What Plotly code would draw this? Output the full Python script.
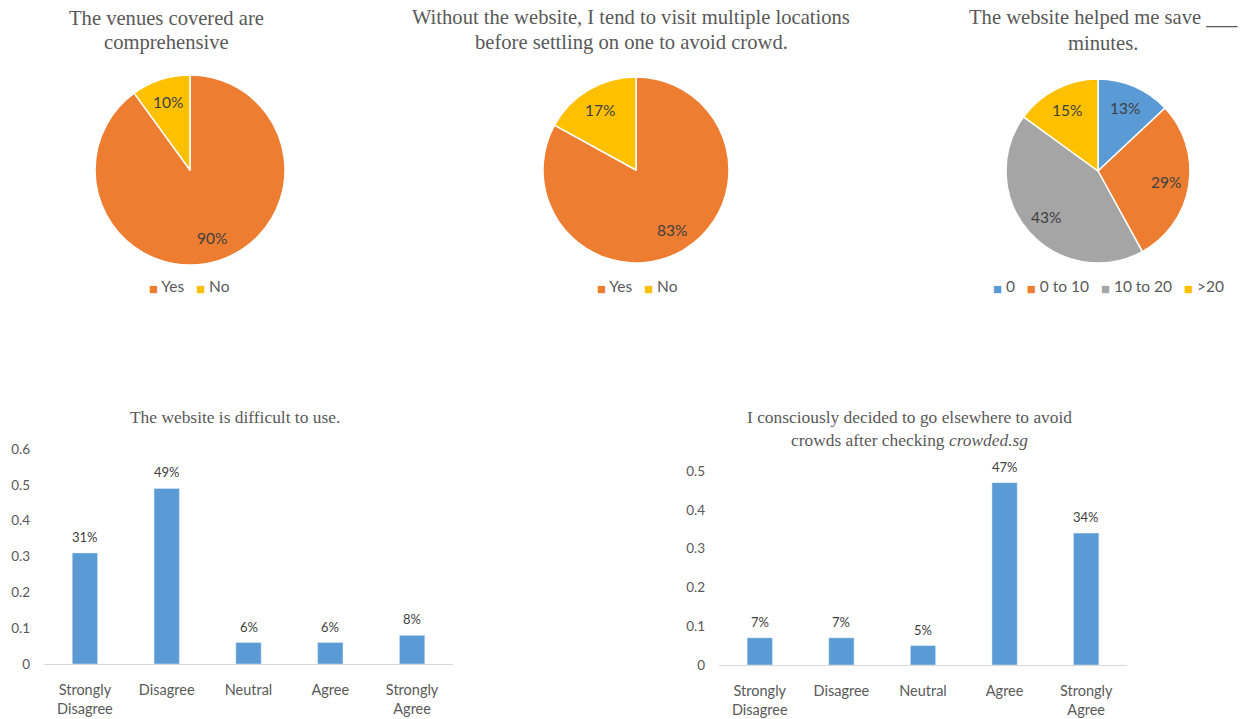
import math
import plotly.graph_objects as go

W, H = 1241, 719

# ---------------- data ----------------
pie1_title = ["The venues covered are", "comprehensive"]
pie1_labels = ["Yes", "No"]
pie1_values = [90, 10]

pie2_title = ["Without the website, I tend to visit multiple locations",
              "before settling on one to avoid crowd."]
pie2_labels = ["Yes", "No"]
pie2_values = [83, 17]

pie3_title = ["The website helped me save ___", "minutes."]
pie3_labels = ["0", "0 to 10", "10 to 20", ">20"]
pie3_values = [13, 29, 43, 15]

bar_categories = ["Strongly<br>Disagree", "Disagree", "Neutral", "Agree", "Strongly<br>Agree"]
bar1_title = ["The website is difficult to use."]
bar1_values = [0.31, 0.49, 0.06, 0.06, 0.08]
bar2_title = ["I consciously decided to go elsewhere to avoid",
              "crowds after checking <i>crowded.sg</i>"]
bar2_values = [0.07, 0.07, 0.05, 0.47, 0.34]

# ---------------- style ----------------
ORANGE, YELLOW, BLUE, GRAY = "#ED7D31", "#FFC000", "#5B9BD5", "#A5A5A5"
pie1_colors = [ORANGE, YELLOW]
pie2_colors = [ORANGE, YELLOW]
pie3_colors = [BLUE, ORANGE, GRAY, YELLOW]
SANS = "Lato, Carlito, Calibri, sans-serif"
SERIF = "Liberation Serif, Times New Roman, serif"
LABEL_C = "#404040"
TICK_C = "#595959"


def px(x):
    return x / W


def py(y):
    return 1 - y / H


fig = go.Figure()
annotations = []


def add_pie(labels, values, colors, cx, cy, r):
    fig.add_trace(go.Pie(
        labels=labels, values=values, sort=False, direction="clockwise", rotation=0,
        marker=dict(colors=colors, line=dict(color="white", width=1.5)),
        textinfo="none",
        domain=dict(x=[px(cx - r), px(cx + r)], y=[py(cy + r), py(cy - r)]),
        showlegend=False, hoverinfo="label+percent",
    ))
    # percentage labels placed at the slice mid-angle, ~3/4 of the radius
    total = float(sum(values))
    cum = 0.0
    for v in values:
        mid = (cum + v / 2.0) / total * 2 * math.pi
        cum += v
        lx = cx + 0.75 * r * math.sin(mid)
        ly = cy - 0.75 * r * math.cos(mid)
        annotations.append(dict(
            text="%d%%" % round(100 * v / total), x=px(lx), y=py(ly),
            xref="paper", yref="paper", xanchor="center", yanchor="middle",
            showarrow=False, font=dict(family=SANS, size=15.5, color=LABEL_C),
        ))


add_pie(pie1_labels, pie1_values, pie1_colors, 190, 170, 95)
add_pie(pie2_labels, pie2_values, pie2_colors, 636, 170, 93)
add_pie(pie3_labels, pie3_values, pie3_colors, 1098, 171, 92)

bar_color = BLUE
fig.add_trace(go.Bar(
    x=bar_categories, y=bar1_values, marker=dict(color=bar_color),
    xaxis="x", yaxis="y", showlegend=False,
))
fig.add_trace(go.Bar(
    x=bar_categories, y=bar2_values, marker=dict(color=bar_color),
    xaxis="x2", yaxis="y2", showlegend=False,
))

for cats, vals, xr, yr in [(bar_categories, bar1_values, "x", "y"),
                           (bar_categories, bar2_values, "x2", "y2")]:
    for c, v in zip(cats, vals):
        annotations.append(dict(
            text="%d%%" % round(v * 100), x=c, y=v, xref=xr, yref=yr,
            xanchor="center", yanchor="middle", yshift=16, showarrow=False,
            font=dict(family=SANS, size=13, color=LABEL_C),
        ))

xcommon = dict(showline=True, linecolor="#D9D9D9", linewidth=1, ticks="",
               showgrid=False, zeroline=False, automargin=False,
               ticklabelstandoff=13,
               tickfont=dict(family=SANS, size=14.5, color=TICK_C))
ycommon = dict(showline=False, showgrid=False, zeroline=False, ticks="",
               automargin=False, dtick=0.1,
               tickfont=dict(family=SANS, size=13.5, color=TICK_C),
               ticklabelstandoff=13)


def title(lines, x, y0, dy, size):
    for i, t in enumerate(lines):
        annotations.append(dict(
            text=t, x=px(x), y=py(y0 + i * dy), xref="paper", yref="paper",
            xanchor="center", yanchor="middle", showarrow=False,
            font=dict(family=SERIF, size=size, color=TICK_C),
        ))


title(pie1_title, 166, 18, 25, 20.6)
title(pie2_title, 631, 18, 25, 20.6)
title(pie3_title, 1103, 18, 25, 20.6)
title(bar1_title, 235, 417, 23, 17.4)
title(bar2_title, 909, 417, 23, 17.4)


def legend(labels, colors, x, y):
    parts = []
    for lab, col in zip(labels, colors):
        parts.append('<span style="color:%s;font-size:9.5px;font-family:DejaVu Sans">\u25A0</span>\u00a0%s'
                     % (col, lab))
    annotations.append(dict(
        text="\u00a0\u00a0\u00a0".join(parts), x=px(x), y=py(y), xref="paper", yref="paper",
        xanchor="center", yanchor="middle", showarrow=False,
        font=dict(family=SANS, size=15.5, color=TICK_C),
    ))


legend(pie1_labels, pie1_colors, 189, 286)
legend(pie2_labels, pie2_colors, 637, 286)
legend(pie3_labels, pie3_colors, 1108, 286)

fig.update_layout(
    width=W, height=H, margin=dict(l=0, r=0, t=0, b=0, autoexpand=False),
    paper_bgcolor="white", plot_bgcolor="white", showlegend=False,
    bargap=0.69,
    xaxis=dict(domain=[px(44), px(453)], anchor="y", **xcommon),
    yaxis=dict(domain=[py(664), py(449)], range=[0, 0.6], anchor="x", **ycommon),
    xaxis2=dict(domain=[px(719), px(1127)], anchor="y2", **xcommon),
    yaxis2=dict(domain=[py(665), py(471)], range=[0, 0.5], anchor="x2", **ycommon),
    annotations=annotations,
)

fig.write_html("out.html")
